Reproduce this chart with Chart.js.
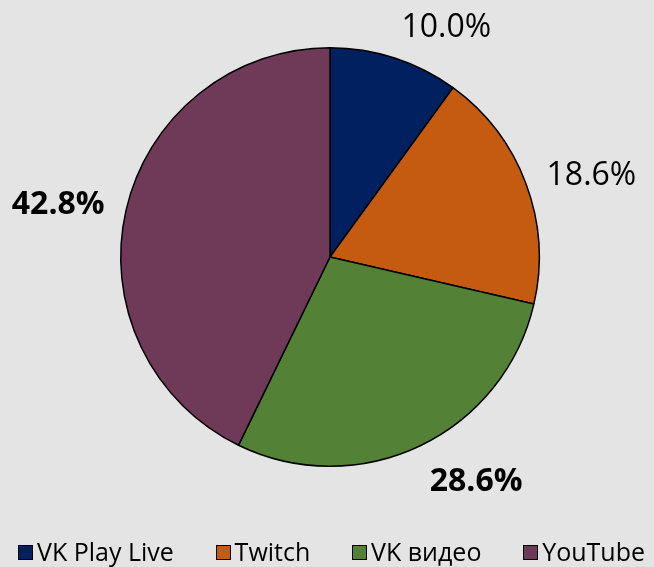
<!DOCTYPE html>
<html>
<head>
<meta charset="utf-8">
<script src="https://cdn.jsdelivr.net/npm/chart.js@4"></script>
<style>
    html, body { margin:0; padding:0; background:#e4e4e4; }
    #wrap { position:relative; width:654px; height:567px; }
    #legend {
        position:absolute; left:18px; right:9px; top:534px; height:34px;
        display:flex; justify-content:space-between; align-items:center;
        font-family:"Open Sans", sans-serif; font-size:25px; line-height:34px; color:#000;
    }
    .item { display:flex; align-items:center; white-space:nowrap; }
    .box { width:13px; height:13px; border:1.5px solid #000; margin-right:4px; margin-top:2px; }
</style>
</head>
<body>
<div id="wrap">
    <canvas id="chart" width="654" height="567"></canvas>
    <div id="legend"></div>
</div>
<script>
// Data
var categories = ["VK Play Live", "Twitch", "VK видео", "YouTube"];
var shares = [10.0, 18.6, 28.6, 42.8];
var colors = ["#002060", "#c55a11", "#538135", "#6e3a58"];
var boldLabels = [false, false, true, true];

// Percent labels outside the slices
var outsideLabels = {
    id: "outsideLabels",
    afterDatasetsDraw: function(chart){
        var ctx = chart.ctx;
        var meta = chart.getDatasetMeta(0);
        meta.data.forEach(function(arc, i){
            var mid = (arc.startAngle + arc.endAngle) / 2;
            var r = arc.outerRadius + 22;
            var c = Math.cos(mid), s = Math.sin(mid);
            var x = arc.x + c * r;
            var y = arc.y + s * r;
            ctx.save();
            ctx.fillStyle = "#000";
            ctx.font = (boldLabels[i] ? "bold " : "") + "32px 'Open Sans', sans-serif";
            ctx.textAlign = c >= 0 ? "left" : "right";
            if (s < -0.8) ctx.textBaseline = "alphabetic";
            else if (s > 0.8) ctx.textBaseline = "top";
            else ctx.textBaseline = "middle";
            ctx.fillText(shares[i].toFixed(1) + "%", x, y);
            ctx.restore();
        });
    }
};

var chart = new Chart(document.getElementById("chart"), {
    type: "pie",
    data: {
        labels: categories,
        datasets: [{
            data: shares,
            backgroundColor: colors,
            borderColor: "#000",
            borderWidth: 1.5
        }]
    },
    options: {
        responsive: false,
        animation: false,
        layout: { padding: { top: 46, bottom: 99, left: 120, right: 114 } },
        plugins: {
            legend: { display: false },
            tooltip: { enabled: false }
        }
    },
    plugins: [outsideLabels]
});

// Legend
var legend = document.getElementById("legend");
categories.forEach(function(name, i){
    var item = document.createElement("div");
    item.className = "item";
    var box = document.createElement("span");
    box.className = "box";
    box.style.background = colors[i];
    var txt = document.createElement("span");
    txt.innerText = name;
    item.appendChild(box);
    item.appendChild(txt);
    legend.appendChild(item);
});
</script>
</body>
</html>
